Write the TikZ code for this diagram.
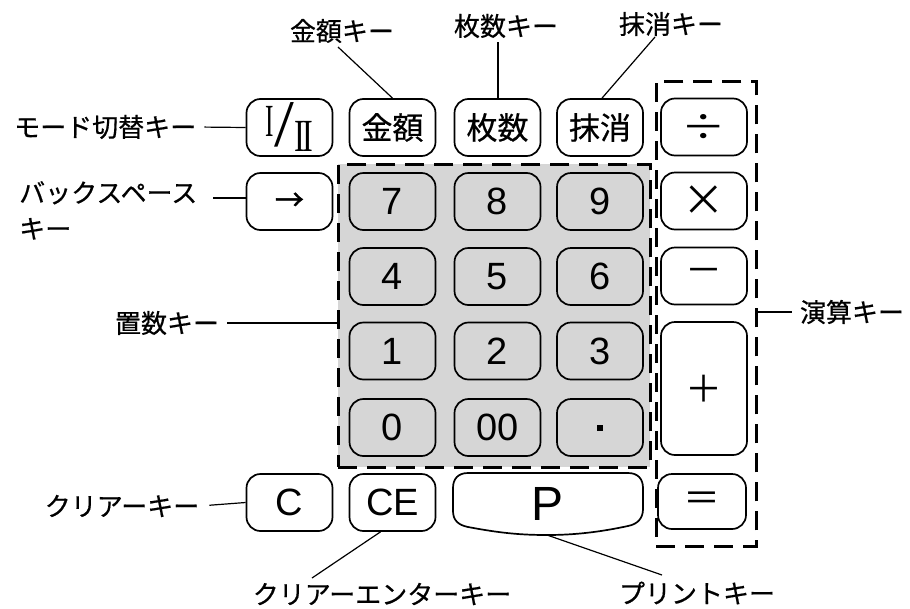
\documentclass[tikz,border=0pt]{standalone}
\usepackage{fontspec}
\usepackage{graphicx}
\setmainfont{Liberation Sans}
\newfontfamily\jp{Noto Sans CJK JP}
\newfontfamily\jpb[FakeBold=0.5]{Noto Sans CJK JP}
\newfontfamily\jpbb[FakeBold=1.2]{Noto Sans CJK JP}
\newfontfamily\romanserif{Liberation Serif}
\usetikzlibrary{calc}
\definecolor{padgray}{gray}{0.84}
\begin{document}
\begin{tikzpicture}[x=1pt,y=-1pt,
  keyline/.style={line width=1.7pt},
  key/.style={draw, keyline, rounded corners=14pt, minimum width=86pt, minimum height=57pt, inner sep=0pt, fill=white},
  numkey/.style={key, fill=padgray},
  dig/.style={font=\fontsize{38}{40}\selectfont},
  jpkey/.style={font=\jpb\fontsize{31}{34}\selectfont},
  opk/.style={font=\jp\fontsize{37}{38}\selectfont},
  lbl/.style={font=\jpb\fontsize{26}{36}\selectfont, inner sep=0pt},
  conn/.style={line width=1.2pt},
  dbox/.style={draw, inner sep=0pt, dash pattern=on 19pt off 10pt, line width=2.6pt}
]
\fill[white] (0,0) rectangle (910,608);
\useasboundingbox (0,0) rectangle (910,608);

% dashed groups
\node[dbox, fill=padgray, minimum width=312pt, minimum height=303pt, anchor=north west] (pad) at (337,163) {};
\node[dbox, minimum width=100pt, minimum height=465pt, anchor=north west] (ops) at (655,80) {};

% row 1
\node[key] (kmode) at (289.5,127.5) {\romanserif\fontsize{46}{46}\selectfont\raisebox{6pt}{\scalebox{0.55}[1]{I}}\kern1pt\raisebox{-4pt}{\scalebox{1.55}[1.45]{/}}\kern0pt\raisebox{-9pt}{\scalebox{0.7}[1]{I\kern-3.5pt I}}};
\node[key, jpkey] (kkin) at (392.5,127.5) {金額};
\node[key, jpkey] (kmai) at (497.5,127.5) {枚数};
\node[key, jpkey] (kmas) at (600,127.5) {抹消};
\node[key, opk] (kdiv) at (704,127) {\scalebox{1.2}[1]{÷}};
% row 2
\node[key] (kbs) at (289.5,201.5) {\jpbb\fontsize{29}{29}\selectfont →};
\node[numkey, dig] (k7) at (392.5,201.5) {7};
\node[numkey, dig] (k8) at (497.5,201.5) {8};
\node[numkey, dig] (k9) at (600,201.5) {9};
\node[key, opk] (kmul) at (704,201) {\scalebox{1.15}{×}};
% row 3
\node[numkey, dig] (k4) at (392.5,276.5) {4};
\node[numkey, dig] (k5) at (497.5,276.5) {5};
\node[numkey, dig] (k6) at (600,276.5) {6};
\node[key, opk] (kmin) at (704,276) {－};
% row 4
\node[numkey, dig] (k1) at (392.5,351) {1};
\node[numkey, dig] (k2) at (497.5,351) {2};
\node[numkey, dig] (k3) at (600,351) {3};
\node[key, opk, minimum height=133pt] (kplus) at (704,388.5) {＋};
% row 5
\node[numkey, dig] (k0) at (392.5,427.5) {0};
\node[numkey, dig] (k00) at (497.5,427.5) {00};
\node[numkey] (kdot) at (600,427.5) {\rule{6pt}{6pt}};
% row 6
\node[key, dig] (kc) at (289.5,502.5) {C};
\node[key, dig] (kce) at (392.5,502.5) {CE};
\draw[keyline, fill=white] (453,488) -- (453,511) .. controls (453,520) and (458,525) .. (468,527)
  .. controls (500,533) and (520,535) .. (547,535) .. controls (575,535) and (600,532) .. (628,526)
  .. controls (638,524) and (643,518) .. (643,509) -- (643,488)
  .. controls (643,479) and (638,473) .. (628,473) -- (468,473)
  .. controls (458,473) and (453,479) .. (453,488) -- cycle;
\node[font=\fontsize{48}{50}\selectfont, inner sep=0pt] (kp) at (548,504) {P};
\coordinate (pbot) at (547,535);
\node[key, opk, minimum height=55pt, minimum width=88pt] (keq) at (702,501.5) {＝};

% labels
\node[lbl] (lkin) at (342,31) {金額キー};
\node[lbl] (lmai) at (506,26) {枚数キー};
\node[lbl] (lmas) at (671,24) {抹消キー};
\node[lbl, anchor=west] (lmode) at (14,127) {モード切替キー};
\node[lbl, anchor=north west, align=left] (lbs) at (19,181) {バックスペース\\キー};
\node[lbl] (lchi) at (167,323) {置数キー};
\node[lbl] (lens) at (852,312) {演算キー};
\node[lbl] (lcl) at (122,506) {クリアーキー};
\node[lbl] (lce) at (382,594) {クリアーエンターキー};
\node[lbl] (lpr) at (697,593) {プリントキー};

% connector end points
\coordinate (ckin) at (338,47);
\coordinate (cmai) at (498,42);
\coordinate (cmas) at (655,37);
\coordinate (cbs) at (213,198);
\coordinate (cce) at (312,578);
\coordinate (cpr) at (662,575);

% connectors
\draw[conn] (ckin) -- (kkin.north);
\draw[conn] (cmai) -- (cmai |- kmai.north);
\draw[conn] (cmas) -- ([xshift=2pt]kmas.north);
\draw[conn, shorten <=8pt] (lmode.east) -- (kmode.west);
\draw[conn] (cbs) -- (cbs -| kbs.west);
\draw[conn, shorten <=8pt] (lchi.east) -- (lchi.east -| pad.west);
\draw[conn, shorten >=8pt] (lens.west -| ops.east) -- (lens.west);
\draw[conn, shorten <=10pt] (lcl.east) -- (kc.west);
\draw[conn] (cce) -- ([xshift=-12pt]kce.south);
\draw[conn] (pbot) -- (cpr);
\end{tikzpicture}
\end{document}
